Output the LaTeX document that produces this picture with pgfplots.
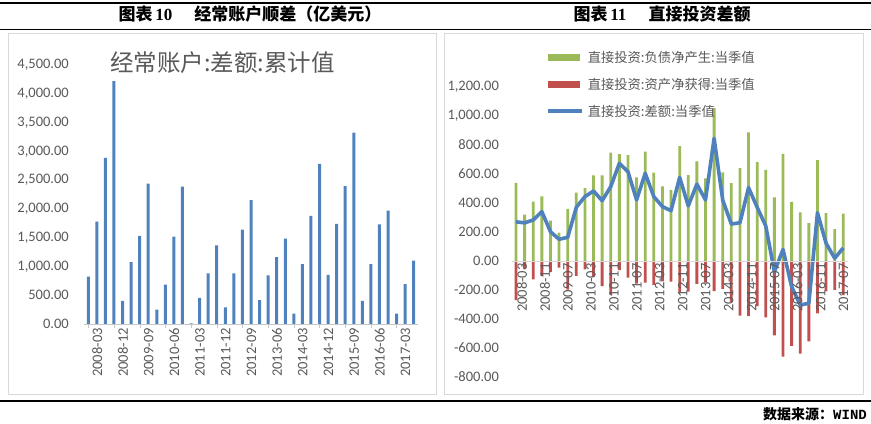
\documentclass[border=0pt]{standalone}
\usepackage{pgfplots}
\usepackage{pgfplotstable}
\pgfplotsset{compat=1.18}
\usepackage{fontspec}
\setmainfont{Carlito}
\newfontfamily\cjk{Noto Sans CJK SC}
\newfontfamily\tnr{Liberation Serif}
\newfontfamily\mono{Liberation Mono}
\definecolor{tg}{HTML}{595959}
\definecolor{barblue}{HTML}{4F81BD}
\definecolor{bargreen}{HTML}{9BBB59}
\definecolor{barred}{HTML}{C0504D}
\definecolor{bordergray}{HTML}{D9D9D9}

\pgfplotstableread{
x v
0 825
1 1780
2 2888
3 4220
4 401
5 1076
6 1529
7 2441
8 250
9 686
10 1517
11 2388
12 10
13 453
14 878
15 1366
16 291
17 878
18 1640
19 2153
20 413
21 843
22 1163
23 1483
24 180
25 1041
26 1878
27 2782
28 855
29 1738
30 2394
31 3324
32 401
33 1041
34 1733
35 1968
36 180
37 692
38 1099
}\ca

\pgfplotstableread{
x g r d
0 539 -269 270
3 319 -56 263
6 409 -126 283
9 445 -105 340
12 279 -77 202
15 196 -46 150
18 360 -197 163
21 472 -102 370
24 502 -58 444
27 590 -107 483
30 590 -174 416
33 748 -235 513
36 737 -63 674
39 731 -115 616
42 577 -156 421
45 754 -149 605
48 609 -165 444
51 515 -140 375
54 490 -143 347
57 792 -215 577
60 592 -212 380
63 687 -157 530
66 570 -149 421
69 1054 -208 846
72 612 -192 420
75 537 -282 255
78 641 -377 264
81 887 -381 506
84 682 -312 370
87 629 -388 241
90 439 -513 -74
93 739 -659 80
96 408 -585 -177
99 336 -639 -303
102 262 -554 -292
105 695 -362 333
108 331 -209 122
111 219 -200 19
114 326 -236 90
}\fdi

\begin{document}
\begin{tikzpicture}
\useasboundingbox (0bp,0bp) rectangle (871bp,424bp);
\draw[line width=1.3bp] (0bp,421bp) -- (871bp,421bp);
\draw[line width=1.3bp] (0bp,394.5bp) -- (871bp,394.5bp);
\draw[line width=1.3bp] (0bp,23bp) -- (871bp,23bp);
\draw[bordergray, line width=0.9bp] (8bp,30bp) rectangle (436bp,391bp);
\draw[bordergray, line width=0.9bp] (444bp,30bp) rectangle (863bp,391bp);
\node[anchor=center, inner sep=0pt, font=\fontsize{17bp}{19bp}\selectfont] at (250bp,409.5bp)
  {{\cjk\bfseries 图表}\,{\tnr\bfseries 10}\hspace{1.3em}{\cjk\bfseries 经常账户顺差（亿美元）}};
\node[anchor=center, inner sep=0pt, font=\fontsize{17bp}{19bp}\selectfont] at (662bp,409.5bp)
  {{\cjk\bfseries 图表}\,{\tnr\bfseries 11}\hspace{1.3em}{\cjk\bfseries 直接投资差额}};
\node[anchor=east, inner sep=0pt, font=\fontsize{14bp}{16bp}\selectfont] at (867bp,10bp)
  {{\cjk\bfseries 数据来源：}{\mono\bfseries WIND}};
\node[anchor=west, inner sep=0pt, text=tg, font=\cjk\fontsize{23.5bp}{27bp}\selectfont] at (110bp,361bp)
  {经常账户:差额:累计值};

\begin{axis}[
  at={(84bp,100bp)}, anchor=south west, scale only axis,
  width=334bp, height=259bp,
  xmin=-0.5, xmax=38.5, ymin=0, ymax=4500,
  axis x line=bottom, axis y line=left, axis line style={-},
  y axis line style={draw=none}, x axis line style={draw=bordergray!80!gray},
  ytick={0,500,...,4500},
  xtick={0,3,...,36},
  xticklabels={2008-03,2008-12,2009-09,2010-06,2011-03,2011-12,2012-09,2013-06,2014-03,2014-12,2015-09,2016-06,2017-03},
  tick label style={text=tg, font=\fontsize{14.5bp}{16bp}\selectfont},
  /pgf/number format/assume math mode=true,
  /pgf/number format/fixed, /pgf/number format/fixed zerofill,
  /pgf/number format/precision=2, /pgf/number format/1000 sep={,},
  yticklabel style={inner xsep=0pt, xshift=-11bp},
  xticklabel style={rotate=90, anchor=east, inner sep=0pt, yshift=-9bp},
  ytick style={draw=none}, xtick style={draw=bordergray!80!gray},
  tick align=outside, major tick length=4bp,
]
\addplot[ybar, bar width=3bp, bar shift=0pt, fill=barblue, draw=none] table[x=x,y=v] {\ca};
\end{axis}

\begin{axis}[
  at={(511.7bp,47bp)}, anchor=south west, scale only axis,
  width=335.9bp, height=290bp,
  xmin=-1.5, xmax=115.5, ymin=-800, ymax=1200,
  axis on top,
  axis x line=middle, axis y line=left, axis line style={-},
  hide obscured x ticks=false,
  y axis line style={draw=none}, x axis line style={draw=bordergray},
  ytick={-800,-600,...,1200},
  xtick={0,8,...,112},
  xticklabels={2008-03,2008-11,2009-07,2010-03,2010-11,2011-07,2012-03,2012-11,2013-07,2014-03,2014-11,2015-07,2016-03,2016-11,2017-07},
  tick label style={text=tg, font=\fontsize{14.5bp}{16bp}\selectfont},
  /pgf/number format/assume math mode=true,
  /pgf/number format/fixed, /pgf/number format/fixed zerofill,
  /pgf/number format/precision=2, /pgf/number format/1000 sep={,},
  yticklabel style={inner xsep=0pt, xshift=-10.5bp},
  xticklabel style={rotate=90, anchor=east, inner sep=0pt, yshift=-6bp},
  ytick style={draw=none}, xtick style={draw=none},
  legend style={at={(rel axis cs:0.102,1.13)}, anchor=north west, draw=none, fill=none,
    inner sep=0pt, row sep=10bp, font=\cjk\fontsize{13.3bp}{15bp}\selectfont, text=tg,
    nodes={inner xsep=4bp}},
  legend cell align=left,
]
\addplot[ybar, bar width=2.8bp, bar shift=0pt, fill=bargreen, draw=none,
  legend image code/.code={\fill[bargreen] (0bp,-3.5bp) rectangle (32bp,3.5bp);}]
  table[x=x,y=g] {\fdi};
\addlegendentry{直接投资:负债净产生:当季值}
\addplot[ybar, bar width=2.8bp, bar shift=0pt, fill=barred, draw=none,
  legend image code/.code={\fill[barred] (0bp,-3.5bp) rectangle (32bp,3.5bp);}]
  table[x=x,y=r] {\fdi};
\addlegendentry{直接投资:资产净获得:当季值}
\addplot[sharp plot, no markers, barblue, line width=3.6bp, line join=round,
  legend image code/.code={\draw[barblue, line width=3.6bp] (0bp,0bp) -- (34bp,0bp);}]
  table[x=x,y=d] {\fdi};
\addlegendentry{直接投资:差额:当季值}
\end{axis}
\end{tikzpicture}
\end{document}
